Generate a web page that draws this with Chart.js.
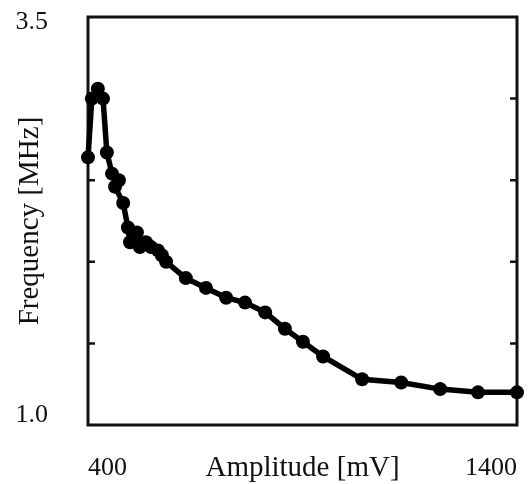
<!DOCTYPE html>
<html><head><meta charset="utf-8">
<script src="https://cdn.jsdelivr.net/npm/chart.js@4/dist/chart.umd.min.js"></script>
<style>html,body{margin:0;padding:0;background:#fff}canvas{display:block}</style>
</head><body>
<canvas id="c" width="528" height="484"></canvas>
<script>
const amplitudes = [400,409,423,435,444,456,472,463,482,493,498,514,521,535,547,563,572,582,628,675,722,766,813,859,901,948,1039,1130,1221,1309,1400];
const frequencies = [2.64,3.00,3.06,3.00,2.67,2.54,2.50,2.46,2.36,2.21,2.12,2.18,2.09,2.12,2.09,2.07,2.04,2.00,1.90,1.84,1.78,1.75,1.69,1.59,1.51,1.42,1.28,1.26,1.22,1.20,1.20];
const xTickValues = [400, 1400];
const yTickValues = [1.0, 1.5, 2.0, 2.5, 3.0, 3.5];
const yLabelValues = [1.0, 3.5];
const xTitle = 'Amplitude [mV]';
const yTitle = 'Frequency [MHz]';

const FONT = "'Liberation Serif', serif";
const INK = '#111';

const framePlugin = {
  id: 'frame',
  beforeDatasetsDraw(chart) {
    const {ctx, chartArea: a, scales: {y}} = chart;
    ctx.save();
    ctx.strokeStyle = INK;
    ctx.lineWidth = 3;
    ctx.strokeRect(a.left, a.top, a.right - a.left, a.bottom - a.top);
    ctx.lineWidth = 2.5;
    yTickValues.forEach(v => {
      if (v === y.min || v === y.max) return;
      const py = y.getPixelForValue(v);
      ctx.beginPath();
      ctx.moveTo(a.left, py); ctx.lineTo(a.left + 7, py);
      ctx.moveTo(a.right, py); ctx.lineTo(a.right - 7, py);
      ctx.stroke();
    });
    ctx.restore();
  }
};

// y labels sit slightly inside the axis ends (top label nudged down, bottom label nudged up)
function yLabel(v, scale) {
  if (!yLabelValues.includes(v)) return '';
  const txt = v.toFixed(1);
  return v === scale.max ? ['', txt] : ['' + txt, ''];
}

new Chart(document.getElementById('c'), {
  type: 'scatter',
  data: {
    datasets: [{
      data: amplitudes.map((x, i) => ({x, y: frequencies[i]})),
      showLine: true,
      borderColor: '#000',
      backgroundColor: '#000',
      borderWidth: 5.5,
      pointRadius: 7,
      pointHoverRadius: 7,
      pointBorderWidth: 0,
      tension: 0,
      clip: false
    }]
  },
  options: {
    responsive: false,
    animation: false,
    events: [],
    layout: {padding: {top: 17, right: 11, left: 0, bottom: 0}},
    plugins: {legend: {display: false}, tooltip: {enabled: false}},
    scales: {
      x: {
        type: 'linear', min: 400, max: 1400,
        afterBuildTicks: s => { s.ticks = xTickValues.map(v => ({value: v})); },
        afterFit: s => { s.height = 59; s.paddingLeft = 0; s.paddingRight = 0; },
        grid: {display: false, drawTicks: false},
        border: {display: false},
        ticks: {
          align: 'inner', maxRotation: 0, autoSkip: false, padding: 28,
          color: INK, font: {family: FONT, size: 26},
          callback: v => String(v)
        },
        title: {display: true, text: xTitle, color: INK, font: {family: FONT, size: 29}, padding: {top: 0, bottom: -2}}
      },
      y: {
        type: 'linear', min: 1.0, max: 3.5,
        afterBuildTicks: s => { s.ticks = yTickValues.map(v => ({value: v})); },
        afterFit: s => { s.width = 88; s.paddingTop = 0; s.paddingBottom = 0; },
        grid: {display: false, drawTicks: false},
        border: {display: false},
        ticks: {
          padding: 40, autoSkip: false,
          color: INK,
          font: c => ({family: FONT, size: 26, lineHeight: (c.tick && c.tick.value === 3.5) ? '10px' : '20px'}),
          callback: function (v) { return yLabel(v, this); }
        },
        title: {display: true, text: yTitle, color: INK, font: {family: FONT, size: 29}, padding: {top: 13, bottom: 0}}
      }
    }
  },
  plugins: [framePlugin]
});
</script>
</body></html>
